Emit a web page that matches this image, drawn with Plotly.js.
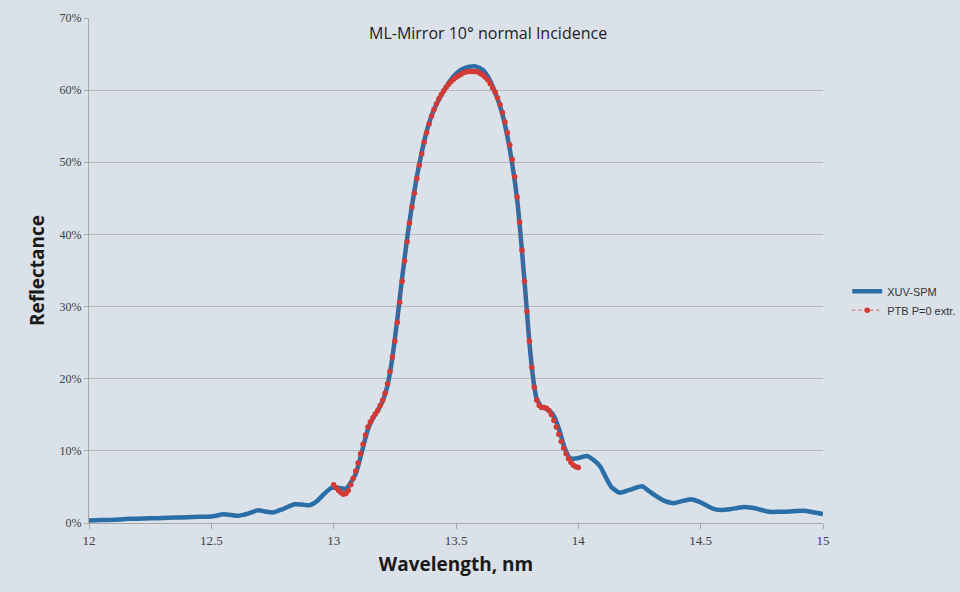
<!DOCTYPE html>
<html>
<head>
<meta charset="utf-8">
<script src="https://cdn.plot.ly/plotly-3.0.1.min.js"></script>
<style>
html,body{margin:0;padding:0;background:#dae1e8;}
#chart{width:960px;height:592px;}
</style>
</head>
<body>
<div id="chart"></div>
<script>
// XUV-SPM measured reflectance (wavelength nm, reflectance %)
const xuvWavelength = [12.00,12.05,12.10,12.15,12.20,12.25,12.30,12.35,12.40,12.45,12.50,12.55,12.58,12.61,12.65,12.69,12.72,12.75,12.79,12.84,12.87,12.90,12.93,12.96,12.99,13.02,13.05,13.07,13.09,13.10,13.12,13.14,13.16,13.18,13.20,13.22,13.23,13.24,13.26,13.28,13.30,13.32,13.34,13.36,13.38,13.41,13.45,13.48,13.52,13.55,13.58,13.61,13.63,13.65,13.67,13.69,13.71,13.73,13.75,13.77,13.79,13.80,13.81,13.82,13.83,13.85,13.87,13.89,13.905,13.925,13.945,13.965,13.98,14.00,14.035,14.06,14.09,14.11,14.135,14.17,14.21,14.26,14.29,14.32,14.35,14.39,14.42,14.46,14.49,14.52,14.55,14.58,14.62,14.67,14.71,14.75,14.78,14.82,14.86,14.92,14.96,15.00];
const xuvReflect = [0.35,0.4,0.45,0.55,0.6,0.65,0.7,0.75,0.8,0.85,0.9,1.2,1.1,1.0,1.3,1.75,1.6,1.45,1.9,2.6,2.55,2.45,3.0,4.0,4.85,4.9,4.75,5.6,6.8,7.9,10.5,13.0,14.5,15.6,16.9,19.0,20.8,22.9,28.2,34.0,39.4,44.0,48.0,51.4,54.3,57.3,59.9,61.5,62.8,63.2,63.3,62.8,61.9,60.5,58.8,56.6,53.6,49.7,44.8,37.6,29.3,25.0,21.6,18.9,17.2,16.1,15.8,15.3,14.5,12.6,10.3,9.0,8.9,9.0,9.3,8.8,7.8,6.5,5.0,4.2,4.6,5.1,4.4,3.7,3.1,2.75,3.0,3.3,3.0,2.5,2.0,1.8,1.9,2.2,2.1,1.8,1.55,1.55,1.6,1.7,1.5,1.25];

// PTB P=0 extrapolated reflectance (wavelength nm, reflectance %)
const ptbWavelength = [13.00,13.01,13.02,13.03,13.04,13.05,13.06,13.07,13.08,13.09,13.10,13.11,13.12,13.13,13.14,13.15,13.16,13.17,13.18,13.19,13.20,13.21,13.22,13.23,13.24,13.25,13.26,13.27,13.28,13.29,13.30,13.31,13.32,13.33,13.34,13.35,13.36,13.37,13.38,13.39,13.40,13.41,13.42,13.43,13.44,13.45,13.46,13.47,13.48,13.49,13.50,13.51,13.52,13.53,13.54,13.55,13.56,13.57,13.58,13.59,13.60,13.61,13.62,13.63,13.64,13.65,13.66,13.67,13.68,13.69,13.70,13.71,13.72,13.73,13.74,13.75,13.76,13.77,13.78,13.79,13.80,13.81,13.82,13.83,13.84,13.85,13.86,13.87,13.88,13.89,13.90,13.91,13.92,13.93,13.94,13.95,13.96,13.97,13.98,13.99,14.00];
const ptbReflect = [5.3,4.9,4.5,4.2,4.0,4.1,4.5,5.3,6.2,7.2,8.3,9.6,10.9,12.2,13.3,14.0,14.6,15.1,15.6,16.3,17.0,18.0,19.3,21.0,23.0,25.2,27.8,30.6,33.5,36.3,39.0,41.6,43.8,45.7,47.8,49.6,51.2,52.8,54.1,55.3,56.4,57.3,58.1,58.8,59.4,59.9,60.4,60.8,61.2,61.5,61.8,62.0,62.2,62.4,62.5,62.6,62.6,62.6,62.6,62.5,62.3,62.1,61.8,61.4,60.9,60.3,59.7,58.9,58.0,56.9,55.6,54.1,52.4,50.4,48.0,45.2,41.7,37.8,33.5,29.3,25.2,21.6,18.8,17.0,16.3,16.0,16.0,15.9,15.6,15.0,14.2,13.3,12.3,11.3,10.4,9.6,8.9,8.4,8.0,7.8,7.7];

const xTicks = [12, 12.5, 13, 13.5, 14, 14.5, 15];
const yTicks = [0, 10, 20, 30, 40, 50, 60, 70];
const yTickLabels = ['0%','10%','20%','30%','40%','50%','60%','70%'];

const traces = [
  {
    x: xuvWavelength, y: xuvReflect, name: 'XUV-SPM', type: 'scatter', mode: 'lines',
    line: {color: '#2a6ea8', width: 4.5, shape: 'spline', smoothing: 0.6}
  },
  {
    x: ptbWavelength, y: ptbReflect, name: 'PTB P=0 extr.', type: 'scatter', mode: 'lines+markers',
    line: {color: 'rgba(214,60,60,0.55)', width: 1.5, dash: 'dot'},
    marker: {color: '#d23a36', size: 5.5, symbol: 'circle'}
  }
];

const layout = {
  width: 960, height: 592,
  paper_bgcolor: '#dae1e8', plot_bgcolor: '#dae1e8',
  margin: {l: 89, r: 137, t: 18, b: 69, pad: 0, autoexpand: false},
  showlegend: true,
  legend: {
    x: 1.033, xanchor: 'left', y: 0.44, yanchor: 'middle',
    bgcolor: 'rgba(0,0,0,0)', font: {family: 'Liberation Sans, Arial, sans-serif', size: 11, color: '#333'},
    itemwidth: 30, tracegroupgap: 4
  },
  xaxis: {
    range: [12, 15], tickvals: xTicks, ticktext: xTicks.map(String),
    showgrid: false, zeroline: false, showline: true, linecolor: '#a8a8a8', linewidth: 1,
    ticks: 'outside', ticklen: 5, tickcolor: '#a8a8a8',
    tickfont: {family: 'Liberation Serif, Times New Roman, serif', size: 13, color: '#404040'},
    title: {text: 'Wavelength, nm', font: {family: 'Open Sans, sans-serif', size: 19, color: '#1a1a1a', weight: 'bold'}, standoff: 11}
  },
  yaxis: {
    range: [0, 70], tickvals: yTicks, ticktext: yTickLabels,
    showgrid: true, gridcolor: '#b7b7b7', gridwidth: 1, zeroline: false,
    showline: true, linecolor: '#a8a8a8', linewidth: 1,
    ticks: 'outside', ticklen: 4, tickcolor: '#a8a8a8',
    tickfont: {family: 'Liberation Serif, Times New Roman, serif', size: 12, color: '#404040'},
    title: {text: 'Reflectance', font: {family: 'Open Sans, sans-serif', size: 19, color: '#1a1a1a', weight: 'bold'}, standoff: 9}
  },
  annotations: [
    {text: 'ML-Mirror 10° normal Incidence', xref: 'paper', yref: 'paper', x: (488-89)/734, y: (523-33)/505,
     xanchor: 'center', yanchor: 'middle', showarrow: false,
     font: {family: 'Open Sans, sans-serif', size: 16, color: '#222', weight: 500}}
  ]
};

Plotly.newPlot('chart', traces, layout, {displayModeBar: false, staticPlot: true});
</script>
</body>
</html>
